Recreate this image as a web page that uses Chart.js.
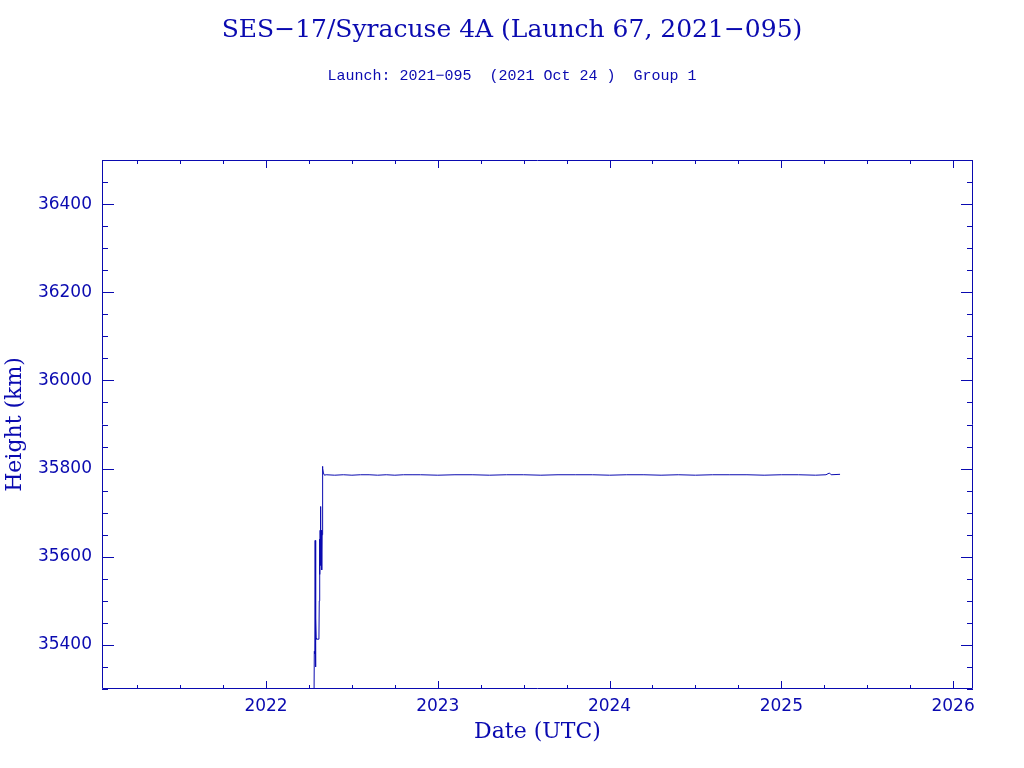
<!DOCTYPE html>
<html>
<head>
<meta charset="utf-8">
<script src="https://cdn.jsdelivr.net/npm/chart.js@4"></script>
<style>
  html, body { margin: 0; padding: 0; background: #fff; }
  #wrap { width: 1024px; height: 768px; }
</style>
</head>
<body>
<div id="wrap"><canvas id="heightChart" width="1024" height="768"></canvas></div>
<script>
// Decimal year of each point and orbit height in km
const years = [
    2022.279, 2022.281, 2022.284, 2022.286, 2022.288, 2022.290, 2022.292, 2022.294,
    2022.308, 2022.310, 2022.312, 2022.313, 2022.315, 2022.316, 2022.318, 2022.320,
    2022.322, 2022.324, 2022.326, 2022.328, 2022.331, 2022.334, 2022.340,
    2022.35, 2022.40, 2022.45, 2022.50, 2022.55, 2022.60, 2022.65, 2022.70, 2022.75,
    2022.80, 2022.85, 2022.90, 2023.00, 2023.10, 2023.20, 2023.30, 2023.40, 2023.50,
    2023.60, 2023.70, 2023.80, 2023.90, 2024.00, 2024.10, 2024.20, 2024.30, 2024.40,
    2024.50, 2024.60, 2024.70, 2024.80, 2024.90, 2025.00, 2025.10, 2025.20, 2025.26,
    2025.28, 2025.29, 2025.342
];
const heights = [
    35240, 35385, 35380, 35637, 35350, 35461, 35415, 35413,
    35413, 35500, 35640, 35560, 35660, 35580, 35714, 35600,
    35660, 35570, 35650, 35805, 35800, 35790, 35785,
    35786, 35785, 35786, 35785, 35786, 35786, 35785, 35786, 35785,
    35786, 35786, 35786, 35785, 35786, 35786, 35785, 35786, 35786,
    35785, 35786, 35786, 35786, 35785, 35786, 35786, 35785, 35786,
    35785, 35786, 35786, 35786, 35785, 35786, 35786, 35785, 35786,
    35790, 35786, 35787
];
const yearTicks = [2022, 2023, 2024, 2025, 2026];
const heightTicks = [35400, 35600, 35800, 36000, 36200, 36400];

const INK = '#0a0ab0';

// frame with inward ticks on all four sides (PGPLOT style box)
const boxTicks = {
    id: 'boxTicks',
    afterDraw(chart) {
        const { ctx, chartArea: a, scales } = chart;
        const x = scales.x, y = scales.y;
        ctx.save();
        ctx.strokeStyle = INK;
        ctx.lineWidth = 1;
        ctx.beginPath();
        ctx.rect(a.left + 0.5, a.top + 0.5, a.right - a.left - 1, a.bottom - a.top - 1);
        // x ticks every quarter year, longer on whole years
        for (let q = Math.ceil(x.min * 4); q <= Math.floor(x.max * 4); q++) {
            const px = Math.round(x.getPixelForValue(q / 4)) + 0.5;
            const len = q % 4 === 0 ? 8 : 4;
            ctx.moveTo(px, a.bottom); ctx.lineTo(px, a.bottom - len);
            ctx.moveTo(px, a.top); ctx.lineTo(px, a.top + len);
        }
        // y ticks every 50 km, longer every 200 km
        for (let v = Math.ceil(y.min / 50) * 50; v <= y.max; v += 50) {
            const py = Math.round(y.getPixelForValue(v)) + 0.5;
            const len = v % 200 === 0 ? 12 : 6;
            ctx.moveTo(a.left, py); ctx.lineTo(a.left + len, py);
            ctx.moveTo(a.right, py); ctx.lineTo(a.right - len, py);
        }
        ctx.stroke();
        ctx.restore();
    }
};

new Chart(document.getElementById('heightChart'), {
    type: 'line',
    data: {
        datasets: [{
            data: years.map((yr, i) => ({ x: yr, y: heights[i] })),
            borderColor: INK,
            borderWidth: 1,
            pointRadius: 0,
            tension: 0,
            fill: false
        }]
    },
    options: {
        responsive: false,
        animation: false,
        layout: { padding: 0 },
        plugins: {
            legend: { display: false },
            tooltip: { enabled: false },
            title: {
                display: true,
                text: 'SES\u221217/Syracuse 4A (Launch 67, 2021\u2212095)',
                color: INK,
                font: { family: 'DejaVu Serif', size: 25, weight: 'normal', lineHeight: 1.2 },
                padding: { top: 15, bottom: 0 }
            },
            subtitle: {
                display: true,
                text: 'Launch: 2021\u2212095  (2021 Oct 24 )  Group 1',
                color: INK,
                font: { family: 'Liberation Mono', size: 15, weight: 'normal', lineHeight: 1.2 },
                padding: { top: 22, bottom: 75 }
            }
        },
        scales: {
            x: {
                type: 'linear',
                min: 2021.045,
                max: 2026.116,
                afterFit: s => { s.height = 79; },
                afterBuildTicks: s => { s.ticks = yearTicks.map(v => ({ value: v })); },
                grid: { display: false, drawTicks: false },
                border: { display: false },
                ticks: {
                    color: INK,
                    padding: 7,
                    maxRotation: 0,
                    font: { family: 'DejaVu Sans', size: 17 },
                    callback: v => String(v)
                },
                title: {
                    display: true,
                    text: 'Date (UTC)',
                    color: INK,
                    font: { family: 'DejaVu Serif', size: 22, lineHeight: 1.2 },
                    padding: { top: 23, bottom: 23 }
                }
            },
            y: {
                min: 35300,
                max: 36500,
                afterFit: s => { s.width = 102; },
                afterBuildTicks: s => { s.ticks = heightTicks.map(v => ({ value: v })); },
                grid: { display: false, drawTicks: false },
                border: { display: false },
                ticks: {
                    color: INK,
                    padding: 10,
                    font: { family: 'DejaVu Sans', size: 17 },
                    callback: v => String(v)
                },
                title: {
                    display: true,
                    text: 'Height (km)',
                    color: INK,
                    font: { family: 'DejaVu Serif', size: 22, lineHeight: 1.2 },
                    padding: { top: 2, bottom: 2 }
                }
            },
            // empty right-hand strip so the titles stay centred on the page
            yRight: {
                position: 'right',
                min: 35300,
                max: 36500,
                afterFit: s => { s.width = 51; },
                grid: { display: false, drawTicks: false },
                border: { display: false },
                ticks: { display: false }
            }
        }
    },
    plugins: [boxTicks]
});
</script>
</body>
</html>
